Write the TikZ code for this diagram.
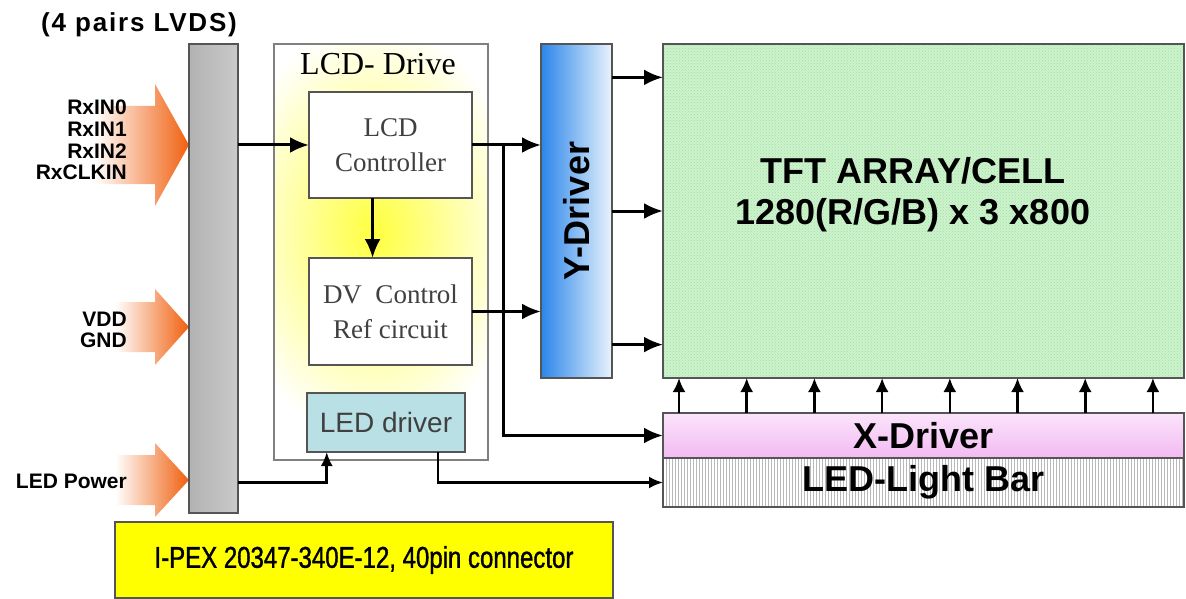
\documentclass[tikz,border=0pt]{standalone}
\usepackage{fontspec}
\setmainfont{Liberation Serif}
\setsansfont{Liberation Sans}
\newfontfamily\narrowsf[FakeStretch=0.8, FakeBold=1.2]{Liberation Sans}
\usepackage{xcolor}
\usepackage{tikz}
\usetikzlibrary{calc}
\usetikzlibrary{patterns}
\usetikzlibrary{arrows.meta}

\definecolor{boxline}{HTML}{555555}
\definecolor{ledteal}{HTML}{B9E1E5}
\definecolor{ybluel}{HTML}{2A86EA}
\definecolor{ybluer}{HTML}{EAF3FC}
\definecolor{tftgreen}{HTML}{CDF3CD}
\definecolor{tftdots}{HTML}{A3DCA3}
\definecolor{xpinktop}{HTML}{FBE4FB}
\definecolor{xpinkbot}{HTML}{F2BAF2}
\definecolor{arroworange}{HTML}{F0600F}
\definecolor{pexyellow}{HTML}{FFFF00}

\begin{document}
\begin{tikzpicture}[x=1pt, y=-1pt,
    box/.style={draw=boxline, line width=1.8pt, inner sep=0pt, outer sep=0pt, anchor=north west},
    arr/.style={line width=3pt, -{Latex[length=19pt,width=16pt]}},
    arrsm/.style={line width=2.6pt, -{Latex[length=14pt,width=12pt]}},
    sig/.style={font=\sffamily\bfseries\fontsize{21}{21.7}\selectfont, align=right, inner sep=0pt, anchor=east},
    big/.style={font=\sffamily\bfseries\fontsize{36}{41}\selectfont, align=center},
    serifbox/.style={box, fill=white, text=black!75, align=center, font=\fontsize{27}{35}\selectfont}]
    \useasboundingbox (0,0) rectangle (1186,599);

    % input arrows
    \foreach \ty/\hh/\sh/\sx in {145/61/39/95, 327/38/25/115, 480/37/25/115}
        \shade[left color=white, right color=arroworange]
            (\sx,\ty-\sh) -- (155,\ty-\sh) -- (155,\ty-\hh) -- (189,\ty)
            -- (155,\ty+\hh) -- (155,\ty+\sh) -- (\sx,\ty+\sh) -- cycle;

    \node[font=\sffamily\bfseries\fontsize{26}{26}\selectfont\addfontfeature{LetterSpace=7}] (lvds) at (139,25) {(4 pairs LVDS)};
    \node[sig] (rxlbl) at (127,140) {RxIN0\\RxIN1\\RxIN2\\RxCLKIN};
    \node[sig] (pwrlbl) at (127,330) {VDD\\GND};
    \node[sig] (ledpwrlbl) at (127,481) {LED Power};

    % connector bar
    \node[box, left color=gray!60, right color=gray!42, minimum width=49pt, minimum height=469pt] (bar) at (189,44) {};

    % LCD drive
    \begin{scope}
        \clip (275,45) rectangle (487,459);
        \shade[inner color=yellow!75, outer color=white] (374,232) ellipse (150pt and 210pt);
    \end{scope}
    \node[box, draw=gray, minimum width=214pt, minimum height=416pt] (drive) at (274,44) {};
    \node[font=\fontsize{32}{32}\selectfont] (drivetitle) at (378,64) {LCD- Drive};
    \node[serifbox, minimum width=163pt, minimum height=106pt] (ctrl) at (309,92) {LCD\\Controller};
    \node[serifbox, minimum width=163pt, minimum height=107pt] (dv) at (309,258) {DV\ \ Control\\Ref circuit};
    \node[box, fill=ledteal, text=black!75, minimum width=158pt, minimum height=59pt,
          font=\sffamily\fontsize{28}{28}\selectfont] (ledd) at (307,393) {LED driver};

    % panel side
    \node[box, left color=ybluel, right color=ybluer, minimum width=71pt, minimum height=334pt] (ydrv) at (541,44) {};
    \node[rotate=90, font=\sffamily\bfseries\fontsize{36}{36}\selectfont] (ydrvtext) at (ydrv.center) {Y-Driver};
    \node[box, preaction={fill=tftgreen}, pattern=crosshatch dots, pattern color=tftdots,
          minimum width=521pt, minimum height=334pt] (tft) at (663,44) {};
    \node[big] (tfttext) at (913,195) {TFT ARRAY/CELL\\1280(R/G/B) x 3 x800};
    \node[box, top color=xpinktop, bottom color=xpinkbot, minimum width=521pt, minimum height=45pt,
          font=\sffamily\bfseries\fontsize{36}{36}\selectfont] (xdrv) at (663,413) {X-Driver};
    \node[box, preaction={fill=white}, pattern=vertical lines, pattern color=gray!55,
          minimum width=521pt, minimum height=49pt,
          font=\sffamily\bfseries\fontsize{36}{36}\selectfont] (lightbar) at (663,458) {LED-Light Bar};

    % connector
    \node[box, fill=pexyellow, minimum width=498pt, minimum height=76pt,
          font=\narrowsf\fontsize{30}{30}\selectfont] (pex) at (115,522) {I-PEX 20347-340E-12, 40pin connector};

    % signals
    \draw[arr] (bar.east |- ctrl.west) -- (ctrl.west);
    \draw[arr] ($(ctrl.south west)!0.39!(ctrl.south east)$) coordinate (c2d) -- (c2d |- dv.north);
    \draw[arr] (ctrl.east) -- (ydrv.west |- ctrl.east);
    \draw[arr] (dv.east) -- (ydrv.west |- dv.east);
    \coordinate (bus) at ($(ctrl.east)!0.46!(ydrv.west |- ctrl.east)$);
    \draw[arr] (bus) |- (xdrv.west);
    \foreach \f in {0.1,0.5,0.9}
        \draw[arr] ($(ydrv.north east)!\f!(ydrv.south east)$) -- ($(tft.north west)!\f!(tft.south west)$);
    \foreach \i in {0,...,7}
        \draw[line width=2.6pt, -{Latex[length=14pt,width=13pt]}] ($(xdrv.north west)+(16+67.7*\i,0)$) -- ($(tft.south west)+(16+67.7*\i,0)$);
    \coordinate (ledin) at ($(ledd.south west)!0.125!(ledd.south east)$);
    \coordinate (ledout) at ($(ledd.south west)!0.83!(ledd.south east)$);
    \draw[arrsm] (bar.east |- lightbar.west) -| (ledin);
    \draw[arrsm] (ledout) |- (lightbar.west);
\end{tikzpicture}
\end{document}
